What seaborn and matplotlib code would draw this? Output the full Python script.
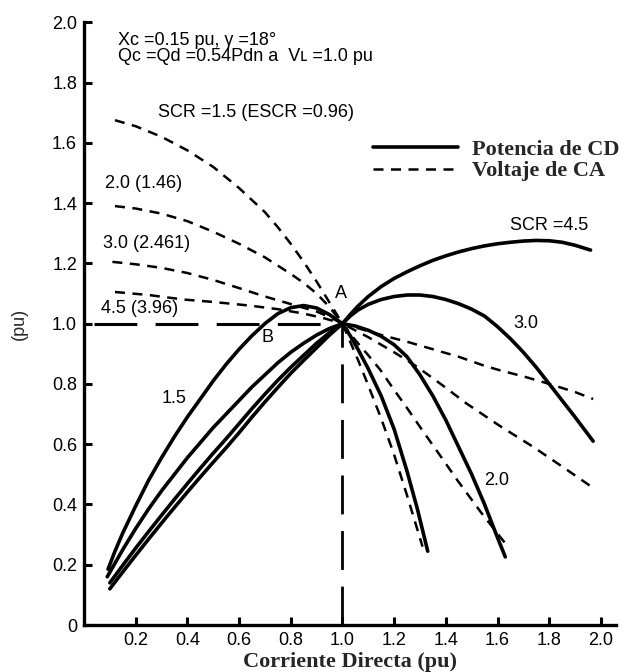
import matplotlib
matplotlib.use('Agg')
import matplotlib.pyplot as plt
import seaborn as sns
from matplotlib.lines import Line2D

# potencia de CD (solid), one series per SCR
p15_x = [0.093, 0.12, 0.15, 0.20, 0.25, 0.30, 0.35, 0.40, 0.45, 0.50, 0.55, 0.60, 0.65, 0.70, 0.75, 0.80, 0.85, 0.90,
         0.95, 1.0, 1.03, 1.06, 1.10, 1.15, 1.20, 1.25, 1.29, 1.33]
p15_y = [0.185, 0.245, 0.305, 0.395, 0.48, 0.555, 0.625, 0.69, 0.75, 0.81, 0.865, 0.915, 0.96, 1.0, 1.033, 1.053, 1.06,
         1.052, 1.03, 1.0, 0.96, 0.915, 0.85, 0.76, 0.65, 0.51, 0.385, 0.245]

p20_x = [0.09, 0.12, 0.15, 0.20, 0.25, 0.30, 0.35, 0.40, 0.45, 0.50, 0.55, 0.60, 0.65, 0.70, 0.75, 0.80, 0.85, 0.90,
         0.95, 1.0, 1.05, 1.10, 1.15, 1.20, 1.25, 1.30, 1.35, 1.40, 1.45, 1.50, 1.55, 1.60, 1.63]
p20_y = [0.16, 0.205, 0.25, 0.32, 0.385, 0.445, 0.50, 0.555, 0.605, 0.655, 0.70, 0.745, 0.79, 0.83, 0.87, 0.905, 0.935,
         0.962, 0.984, 1.0, 0.992, 0.978, 0.958, 0.93, 0.89, 0.83, 0.76, 0.68, 0.59, 0.50, 0.40, 0.29, 0.226]

p30_x = [0.10, 0.15, 0.20, 0.25, 0.30, 0.35, 0.40, 0.45, 0.50, 0.55, 0.60, 0.65, 0.70, 0.75, 0.80, 0.85, 0.90, 0.95,
         1.0, 1.03, 1.06, 1.10, 1.15, 1.20, 1.25, 1.30, 1.35, 1.40, 1.45, 1.50, 1.55, 1.60, 1.65, 1.70, 1.75, 1.80,
         1.85, 1.90, 1.97]
p30_y = [0.14, 0.198, 0.255, 0.31, 0.364, 0.417, 0.469, 0.52, 0.57, 0.618, 0.668, 0.718, 0.766, 0.812, 0.855, 0.895,
         0.935, 0.97, 1.0, 1.025, 1.045, 1.064, 1.08, 1.09, 1.095, 1.095, 1.09, 1.08, 1.066, 1.048, 1.025, 0.99, 0.95,
         0.905, 0.855, 0.80, 0.745, 0.69, 0.61]

p45_x = [0.10, 0.15, 0.20, 0.25, 0.30, 0.35, 0.40, 0.45, 0.50, 0.55, 0.60, 0.65, 0.70, 0.75, 0.80, 0.85, 0.90, 0.95,
         1.0, 1.03, 1.06, 1.10, 1.15, 1.20, 1.25, 1.30, 1.35, 1.40, 1.45, 1.50, 1.55, 1.60, 1.65, 1.70, 1.75, 1.80,
         1.85, 1.90, 1.96]
p45_y = [0.12, 0.176, 0.231, 0.285, 0.338, 0.39, 0.441, 0.491, 0.54, 0.588, 0.638, 0.69, 0.74, 0.788, 0.835, 0.878,
         0.92, 0.962, 1.0, 1.03, 1.058, 1.09, 1.123, 1.15, 1.172, 1.192, 1.21, 1.225, 1.238, 1.249, 1.258, 1.265, 1.27,
         1.274, 1.276, 1.275, 1.27, 1.26, 1.244]

# voltaje de CA (dashed)
v15_x = [0.12, 0.20, 0.30, 0.40, 0.50, 0.60, 0.70, 0.75, 0.80, 0.85, 0.90, 0.95, 1.0, 1.03, 1.06, 1.10, 1.15, 1.20,
         1.25, 1.31]
v15_y = [1.675, 1.655, 1.62, 1.575, 1.52, 1.45, 1.37, 1.32, 1.265, 1.205, 1.14, 1.07, 1.0, 0.94, 0.88, 0.795, 0.685,
         0.565, 0.43, 0.26]

v20_x = [0.12, 0.20, 0.30, 0.40, 0.50, 0.60, 0.70, 0.80, 0.85, 0.90, 0.95, 1.0, 1.05, 1.10, 1.147, 1.20, 1.25, 1.31,
         1.38, 1.445, 1.535, 1.64]
v20_y = [1.39, 1.382, 1.365, 1.34, 1.305, 1.265, 1.22, 1.165, 1.135, 1.10, 1.055, 1.0, 0.945, 0.895, 0.846, 0.78, 0.72,
         0.645, 0.56, 0.48, 0.375, 0.26]

v30_x = [0.11, 0.20, 0.30, 0.40, 0.50, 0.60, 0.70, 0.80, 0.90, 0.95, 1.0, 1.10, 1.20, 1.29, 1.38, 1.48, 1.61, 1.74,
         1.86, 1.97]
v30_y = [1.205, 1.197, 1.185, 1.168, 1.145, 1.118, 1.09, 1.065, 1.04, 1.022, 1.0, 0.955, 0.905, 0.856, 0.80, 0.735,
         0.66, 0.59, 0.52, 0.455]

v45_x = [0.12, 0.25, 0.385, 0.50, 0.64, 0.75, 0.84, 0.92, 1.0, 1.08, 1.16, 1.25, 1.35, 1.45, 1.55, 1.61, 1.70, 1.80,
         1.90, 1.97]
v45_y = [1.105, 1.095, 1.08, 1.072, 1.06, 1.048, 1.035, 1.02, 1.0, 0.98, 0.96, 0.94, 0.915, 0.89, 0.86, 0.845, 0.825,
         0.80, 0.773, 0.75]

ref_x, ref_y = 1.0, 1.0
xticks = [0.2, 0.4, 0.6, 0.8, 1.0, 1.2, 1.4, 1.6, 1.8, 2.0]
yticks = [0, 0.2, 0.4, 0.6, 0.8, 1.0, 1.2, 1.4, 1.6, 1.8, 2.0]
ytick_labels = ['0', '0.2', '0.4', '0.6', '0.8', '1.0', '1.2', '1.4', '1.6', '1.8', '2.0']

sns.set_theme(style='white')
plt.rcParams['font.family'] = ['Liberation Sans', 'DejaVu Sans']

fig = plt.figure(figsize=(6.22, 6.72), dpi=100)
ax = fig.add_axes([0.135, 0.0699, 0.856, 0.897])

solid = dict(color='black', lw=2.6, sort=False, ax=ax)
dashed = dict(color='black', lw=1.8, sort=False, ax=ax, linestyle=(0, (4, 3)))

for xs, ys in [(p15_x, p15_y), (p20_x, p20_y), (p30_x, p30_y), (p45_x, p45_y)]:
    sns.lineplot(x=xs, y=ys, **solid)
for xs, ys in [(v15_x, v15_y), (v20_x, v20_y), (v30_x, v30_y), (v45_x, v45_y)]:
    sns.lineplot(x=xs, y=ys, **dashed)

ax.hlines(ref_y, 0.04, ref_x, color='black', lw=2.2, linestyles=[(0, (14, 6))])
ax.vlines(ref_x, 0.0, ref_y, color='black', lw=2.0, linestyles=[(0, (14, 6))])

ax.set_xlim(0, 2.06)
ax.set_ylim(0, 2.0)
ax.set_xticks(xticks)
ax.set_xticklabels([f'{t:.1f}' for t in xticks])
ax.set_yticks(yticks)
ax.set_yticklabels(ytick_labels)
ax.tick_params(direction='in', length=6, width=2.2, labelsize=13, colors='black', pad=5,
               bottom=True, left=True)
for s in ['top', 'right']:
    ax.spines[s].set_visible(False)
for s in ['left', 'bottom']:
    ax.spines[s].set_linewidth(2.4)
    ax.spines[s].set_color('black')

ax.set_xlabel('Corriente Directa (pu)', family='Liberation Serif', fontweight='bold', fontsize=16, labelpad=2)
ax.set_ylabel('(pu)', fontsize=13, labelpad=17)

txt = dict(fontsize=13, color='black', va='center', ha='left')
ax.text(0.13, 1.94, 'Xc =0.15 pu, γ =18°', **txt)
ax.text(0.13, 1.885, 'Qc =Qd =0.54Pdn a  Vʟ =1.0 pu', **txt)
ax.text(0.287, 1.70, 'SCR =1.5 (ESCR =0.96)', **txt)
ax.text(0.08, 1.466, '2.0 (1.46)', **txt)
ax.text(0.074, 1.267, '3.0 (2.461)', **txt)
ax.text(0.066, 1.05, '4.5 (3.96)', **txt)
ax.text(0.97, 1.10, 'A', **txt)
ax.text(0.685, 0.955, 'B', **txt)
ax.text(0.30, 0.753, '1.5', **txt)
ax.text(1.65, 1.327, 'SCR =4.5', **txt)
ax.text(1.663, 1.0, '3.0', **txt)
ax.text(1.547, 0.48, '2.0', **txt)

handles = [Line2D([], [], color='black', lw=2.6),
           Line2D([], [], color='black', lw=1.8, linestyle=(0, (4, 3)))]
ax.legend(handles, ['Potencia de CD', 'Voltaje de CA'], loc='upper left',
          bbox_to_anchor=(1.118, 1.612), bbox_transform=ax.transData,
          frameon=False, borderpad=0, borderaxespad=0, handlelength=3.83,
          handletextpad=0.63, labelspacing=0.05,
          prop={'family': 'Liberation Serif', 'weight': 'bold', 'size': 16})

plt.savefig('out.png', dpi=100)
